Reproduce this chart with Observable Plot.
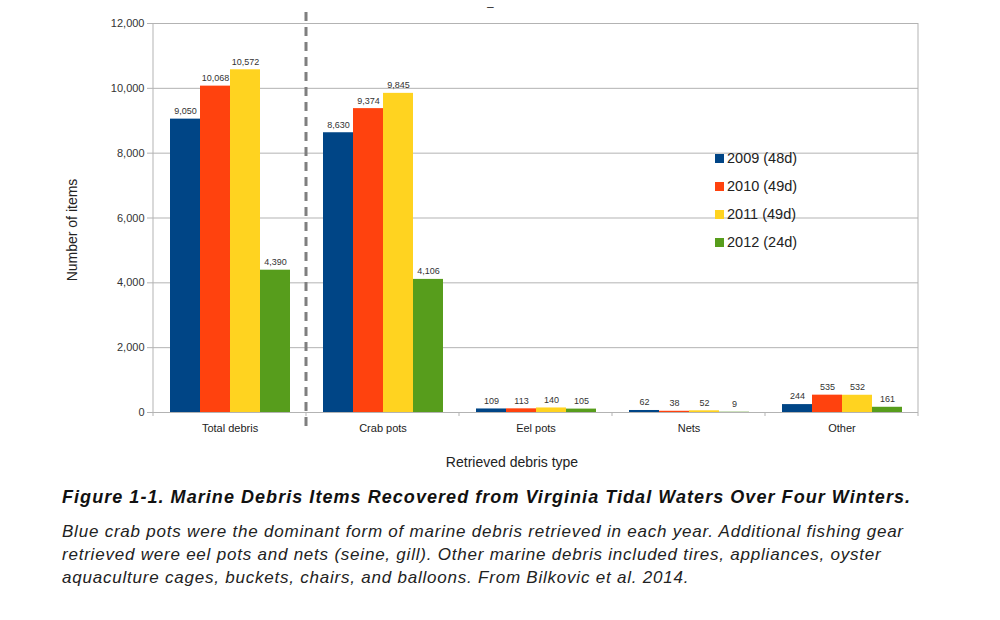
<!DOCTYPE html>
<html>
<head>
<meta charset="utf-8">
<script src="https://cdn.jsdelivr.net/npm/d3@7"></script>
<script src="https://cdn.jsdelivr.net/npm/@observablehq/plot@0.6"></script>
<style>
  html, body { margin: 0; padding: 0; background: #fff; }
  body { width: 1000px; height: 620px; position: relative; overflow: hidden; font-family: "Liberation Sans", Arial, sans-serif; color: #222; }
  #chart { position: absolute; left: 0; top: 0; }
  .ylab { position: absolute; left: 72px; top: 230px; transform: translate(-50%, -50%) rotate(-90deg); font-size: 14px; white-space: nowrap; color: #222; }
  .xlab { position: absolute; left: 512px; top: 462px; transform: translate(-50%, -50%); font-size: 14px; white-space: nowrap; color: #222; }
  .legend { position: absolute; left: 715px; top: 144px; font-size: 14.5px; color: #222; }
  .legend .row { height: 28px; display: flex; align-items: center; }
  .legend .sw { width: 9px; height: 9px; margin-right: 3px; display: inline-block; }
  .caption { position: absolute; left: 62px; top: 487px; width: 940px; }
  .caption .t { font-weight: bold; font-style: italic; font-size: 18px; letter-spacing: 1.05px; color: #111; white-space: nowrap; }
  .caption .b { font-style: italic; font-size: 17px; letter-spacing: 0.78px; line-height: 23px; margin-top: 12px; color: #222; white-space: nowrap; }
  .stray { position: absolute; left: 487px; top: 0px; font-size: 12px; color: #333; }
</style>
</head>
<body>
<div id="chart"></div>
<div class="stray">–</div>
<div class="ylab">Number of items</div>
<div class="xlab">Retrieved debris type</div>
<div class="legend" id="legend"></div>
<div class="caption">
  <div class="t">Figure 1-1. Marine Debris Items Recovered from Virginia Tidal Waters Over Four Winters.</div>
  <div class="b">Blue crab pots were the dominant form of marine debris retrieved in each year. Additional fishing gear<br>retrieved were eel pots and nets (seine, gill). Other marine debris included tires, appliances, oyster<br>aquaculture cages, buckets, chairs, and balloons. From Bilkovic et al. 2014.</div>
</div>
<script>
const categories = ["Total debris", "Crab pots", "Eel pots", "Nets", "Other"];
const years = ["2009 (48d)", "2010 (49d)", "2011 (49d)", "2012 (24d)"];
const colors = ["#004586", "#ff420e", "#ffd320", "#579d1c"];
const values2009 = [9050, 8630, 109, 62, 244];
const values2010 = [10068, 9374, 113, 38, 535];
const values2011 = [10572, 9845, 140, 52, 532];
const values2012 = [4390, 4106, 105, 9, 161];
const yTicks = [0, 2000, 4000, 6000, 8000, 10000, 12000];

const series = [values2009, values2010, values2011, values2012];
const data = [];
categories.forEach((c, i) => {
  years.forEach((y, j) => data.push({category: c, year: y, value: series[j][i]}));
});
const fmt = d3.format(",");

const W = 1000, H = 480;
const chart = Plot.plot({
  width: W,
  height: H,
  marginTop: 23,
  marginBottom: 68,
  marginLeft: 152,
  marginRight: 82,
  style: {fontFamily: "Liberation Sans, Arial, sans-serif", fontSize: "11px", color: "#222", background: "#fff"},
  fx: {domain: categories, padding: 0},
  x: {domain: years, paddingInner: 0, paddingOuter: 0.53, axis: null},
  y: {domain: [0, 12000]},
  color: {domain: years, range: colors},
  marks: [
    Plot.gridY(yTicks, {stroke: "#b3b3b3", strokeOpacity: 1}),
    Plot.barY(data, {fx: "category", x: "year", y: "value", fill: "year", insetLeft: 0, insetRight: 0}),
    Plot.text(data, {fx: "category", x: "year", y: "value", text: d => fmt(d.value), dy: -8, fontSize: 9, fill: "#333"}),
    Plot.axisY(yTicks, {tickFormat: fmt, tickSize: 6, tickPadding: 3, stroke: "#b3b3b3", fill: "#333", label: null, fontSize: 11}),
    Plot.axisFx({anchor: "bottom", tickSize: 0, tickPadding: 12, label: null, fontSize: 11, fill: "#222"})
  ]
});
document.getElementById("chart").appendChild(chart);

// frame lines and category separators using Plot's scales
const fx = chart.scale("fx");
const ys = chart.scale("y");
const svg = d3.select(chart);
const bw = fx.bandwidth;
const left = fx.apply(categories[0]);
const right = fx.apply(categories[categories.length - 1]) + bw;
const y0 = ys.apply(0), yTop = ys.apply(12000);
const g = svg.append("g");
g.append("line").attr("x1", left).attr("x2", left).attr("y1", yTop).attr("y2", y0 + 4).attr("stroke", "#b3b3b3");
g.append("line").attr("x1", right).attr("x2", right).attr("y1", yTop).attr("y2", y0 + 4).attr("stroke", "#b3b3b3");
categories.slice(1).forEach(c => {
  const xb = fx.apply(c);
  g.append("line").attr("x1", xb).attr("x2", xb).attr("y1", y0).attr("y2", y0 + 4).attr("stroke", "#b3b3b3");
});
const xd = fx.apply("Crab pots");
g.append("line").attr("x1", xd).attr("x2", xd).attr("y1", yTop - 11).attr("y2", y0 + 18)
  .attr("stroke", "#7f7f7f").attr("stroke-width", 3).attr("stroke-dasharray", "9,6");

// legend
const lg = document.getElementById("legend");
years.forEach((y, i) => {
  const r = document.createElement("div");
  r.className = "row";
  r.innerHTML = `<span class="sw" style="background:${colors[i]}"></span><span>${y}</span>`;
  lg.appendChild(r);
});
</script>
</body>
</html>
